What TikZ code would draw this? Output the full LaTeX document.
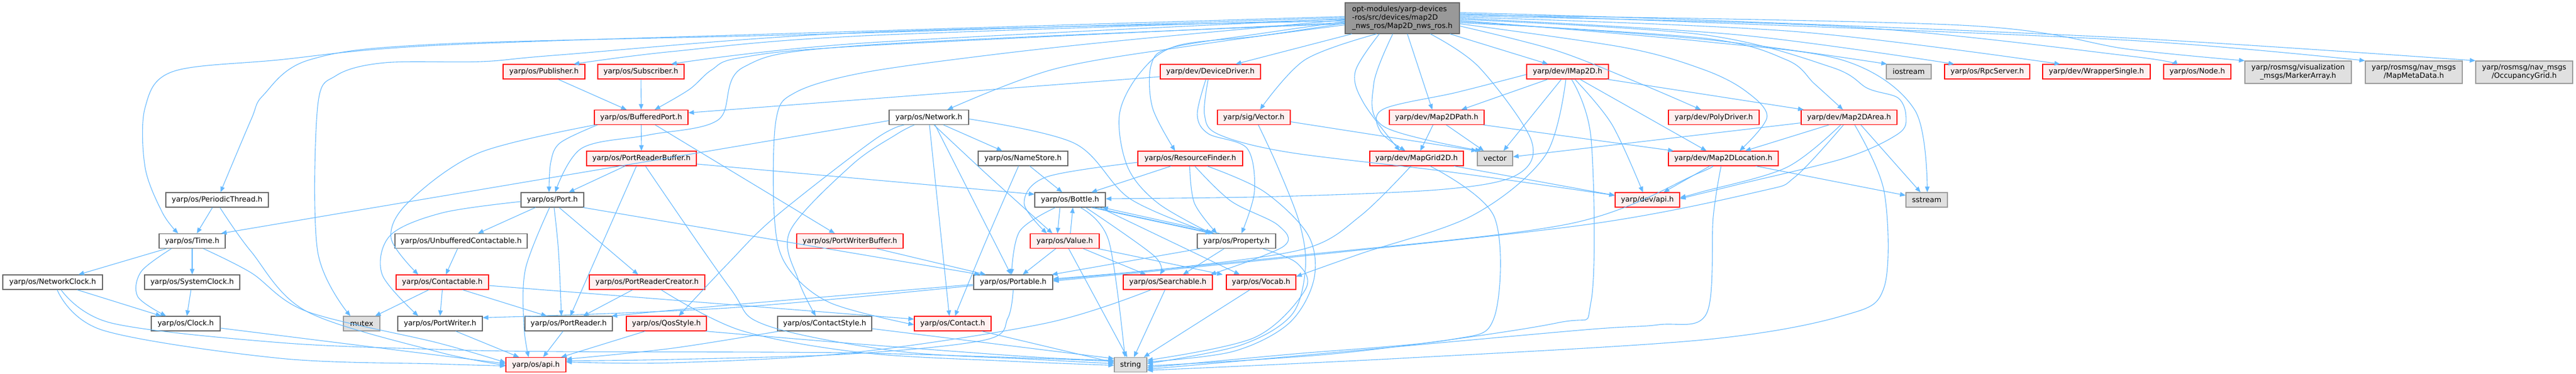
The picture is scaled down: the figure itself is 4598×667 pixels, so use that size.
\documentclass[tikz,border=0pt]{standalone}
\usepackage{fontspec}
\setmainfont{DejaVu Sans}
\usetikzlibrary{arrows.meta}
\definecolor{edgec}{HTML}{63B8FF}
\definecolor{redb}{HTML}{FF0000}
\definecolor{redf}{HTML}{FFF0F0}
\definecolor{plainb}{HTML}{666666}
\definecolor{grayb}{HTML}{999999}
\definecolor{grayf}{HTML}{E0E0E0}
\definecolor{mainf}{HTML}{999999}
\begin{document}
\begin{tikzpicture}[x=1pt,y=-1pt,
  box/.style={draw, line width=1.2pt, inner sep=0pt, font=\fontsize{13}{15}\selectfont, minimum height=26pt},
  redbox/.style={box, draw=redb, fill=redf},
  plainbox/.style={box, draw=plainb, fill=white},
  graybox/.style={box, draw=grayb, fill=grayf},
  mainbox/.style={box, draw=plainb, fill=mainf},
  e/.style={draw=edgec, line width=1.1pt, -{Triangle[length=10pt,width=8pt]}},
  sm/.style={smooth, tension=0.55}
]
\useasboundingbox (0,0) rectangle (4598,667);

% ---------------- nodes ----------------
\node[mainbox, minimum width=204pt, minimum height=55pt, align=left] (main) at (2503,32.5) {opt-modules/yarp-devices\\-ros/src/devices/map2D\\\_nws\_ros/Map2D\_nws\_ros.h};

\node[plainbox, minimum width=183pt] (periodic) at (387.5,357) {yarp/os/PeriodicThread.h};
\node[plainbox, minimum width=118pt] (time) at (343,430.5) {yarp/os/Time.h};
\node[plainbox, minimum width=178pt] (netclock) at (94,504) {yarp/os/NetworkClock.h};
\node[plainbox, minimum width=170pt] (sysclock) at (343,504) {yarp/os/SystemClock.h};
\node[plainbox, minimum width=123pt] (clock) at (331.5,578) {yarp/os/Clock.h};
\node[graybox, minimum width=65pt] (mutex) at (645.5,578) {mutex};

\node[redbox, minimum width=146pt] (publisher) at (971,128) {yarp/os/Publisher.h};
\node[redbox, minimum width=154pt] (subscriber) at (1144,128) {yarp/os/Subscriber.h};
\node[redbox, minimum width=167pt] (bufport) at (1144.5,209.5) {yarp/os/BufferedPort.h};
\node[redbox, minimum width=196pt] (prbuf) at (1145,283) {yarp/os/PortReaderBuffer.h};
\node[plainbox, minimum width=112pt] (port) at (986,357) {yarp/os/Port.h};
\node[plainbox, minimum width=236pt] (unbuf) at (823,430.5) {yarp/os/UnbufferedContactable.h};
\node[redbox, minimum width=165pt] (contactable) at (789.5,504) {yarp/os/Contactable.h};
\node[redbox, minimum width=206pt] (prcreator) at (1155,504) {yarp/os/PortReaderCreator.h};
\node[plainbox, minimum width=151pt] (portwriter) at (785.5,578) {yarp/os/PortWriter.h};
\node[plainbox, minimum width=156pt] (portreader) at (1015,578) {yarp/os/PortReader.h};
\node[redbox, minimum width=143pt] (qos) at (1189.5,578) {yarp/os/QosStyle.h};
\node[plainbox, minimum width=168pt] (cstyle) at (1472,578) {yarp/os/ContactStyle.h};
\node[redbox, minimum width=190pt] (pwbuf) at (1517,430.5) {yarp/os/PortWriterBuffer.h};
\node[redbox, minimum width=107pt] (osapi) at (956.5,651.5) {yarp/os/api.h};

\node[redbox, minimum width=179pt] (devdriver) at (2160.5,128) {yarp/dev/DeviceDriver.h};
\node[plainbox, minimum width=142pt] (network) at (1658,209.5) {yarp/os/Network.h};
\node[redbox, minimum width=130pt] (sigvector) at (2238,209.5) {yarp/sig/Vector.h};
\node[plainbox, minimum width=160pt] (namestore) at (1826,283) {yarp/os/NameStore.h};
\node[redbox, minimum width=187pt] (rfinder) at (2124.5,283) {yarp/os/ResourceFinder.h};
\node[plainbox, minimum width=126pt] (bottle) at (1910,357) {yarp/os/Bottle.h};
\node[redbox, minimum width=123pt] (value) at (1900.5,430.5) {yarp/os/Value.h};
\node[plainbox, minimum width=140pt] (property) at (2207,430.5) {yarp/os/Property.h};
\node[plainbox, minimum width=141pt] (portable) at (1808.5,504) {yarp/os/Portable.h};
\node[redbox, minimum width=159pt] (searchable) at (2084.5,504) {yarp/os/Searchable.h};
\node[redbox, minimum width=124pt] (vocab) at (2251,504) {yarp/os/Vocab.h};
\node[redbox, minimum width=137pt] (contact) at (1700.5,578) {yarp/os/Contact.h};
\node[graybox, minimum width=58pt] (string) at (2018,651.5) {string};

\node[redbox, minimum width=146pt] (imap) at (2798,128) {yarp/dev/IMap2D.h};
\node[redbox, minimum width=169pt] (m2dpath) at (2564.5,209.5) {yarp/dev/Map2DPath.h};
\node[redbox, minimum width=167pt] (mapgrid) at (2528.5,283) {yarp/dev/MapGrid2D.h};
\node[graybox, minimum width=63pt] (vectorstd) at (2668.5,283) {vector};
\node[redbox, minimum width=115pt] (devapi) at (2940.5,357) {yarp/dev/api.h};
\node[redbox, minimum width=162pt] (polydriver) at (3059,209.5) {yarp/dev/PolyDriver.h};
\node[redbox, minimum width=196pt] (m2dloc) at (3076,283) {yarp/dev/Map2DLocation.h};
\node[graybox, minimum width=80pt] (iostream) at (3407,128) {iostream};
\node[redbox, minimum width=152pt] (rpcserver) at (3547,128) {yarp/os/RpcServer.h};
\node[redbox, minimum width=192pt] (wrapper) at (3742,128) {yarp/dev/WrapperSingle.h};
\node[redbox, minimum width=171pt] (m2darea) at (3300.5,209.5) {yarp/dev/Map2DArea.h};
\node[graybox, minimum width=74pt] (sstream) at (3439,357) {sstream};
\node[redbox, minimum width=120pt] (node) at (3922,128) {yarp/os/Node.h};
\node[graybox, minimum width=190pt, minimum height=40pt, align=center] (marker) at (4102,129) {yarp/rosmsg/visualization\\\_msgs/MarkerArray.h};
\node[graybox, minimum width=173pt, minimum height=40pt, align=center] (metadata) at (4308.5,129) {yarp/rosmsg/nav\_msgs\\/MapMetaData.h};
\node[graybox, minimum width=173pt, minimum height=40pt, align=center] (occgrid) at (4505.5,129) {yarp/rosmsg/nav\_msgs\\/OccupancyGrid.h};

% ---------------- edges ----------------
\begin{scope}[on background layer/.style={}]
% left cluster
\draw[e] (periodic) -- (time);
\draw[e] plot[sm] coordinates {([xshift=5pt]periodic.south) (448,449) (547,556) (780,628) ([yshift=-1pt]osapi.west)};
\draw[e] (time) -- (netclock);
\draw[e] (time) -- (sysclock);
\draw[e] plot[sm] coordinates {([xshift=-37pt]time.south) (252,485) (246,530) ([xshift=-35pt]clock.north)};
\draw[e] plot[sm] coordinates {([xshift=20pt]time.south) (448,487) (547,556) (780,612) ([yshift=4pt]osapi.west)};
\draw[e] (netclock) -- (clock);
\draw[e] plot[sm] coordinates {([xshift=8pt]netclock.south) (184,590) (500,640) (780,650) ([yshift=-2pt]osapi.west)};
\draw[e] plot[sm] coordinates {([xshift=15pt]netclock.south) (199,577) (500,612) (780,624) (1000,628) (1500,630) (1850,640) ([yshift=6pt]string.west)};
\draw[e] (sysclock) -- (clock);
\draw[e] ([yshift=-8pt]clock.east) -- ([yshift=2pt]osapi.west);
\draw[e] ([xshift=-24pt]contactable.south) -- ([xshift=24pt]mutex.north);

% main to the left
\draw[e] plot[sm] coordinates {([yshift=3pt]main.west) (1500,57) (780,81) (497,107) (308,128) (259,192) (259,299) (290,380) ([xshift=-25pt]time.north)};
\draw[e] plot[sm] coordinates {([yshift=1pt]main.west) (1500,60) (780,79) (552,107) (470,170) (448,214) ([xshift=6pt]periodic.north)};
\draw[e] plot[sm] coordinates {([yshift=-5pt]main.west) (1540,58) (1000,98) (860,110) (687,112) (600,135) (567,190) (567,449) ([xshift=-20pt]mutex.north)};
\draw[e] plot[sm] coordinates {([yshift=-2pt]main.west) (1540,64) (1200,92) ([xshift=53pt]publisher.north)};
\draw[e] plot[sm] coordinates {([yshift=-1pt]main.west) (1540,77) ([xshift=54pt]subscriber.north)};
\draw[e] plot[sm] coordinates {([yshift=-8pt]main.west) (1540,82) (1322,103) (1270,125) (1230,160) ([xshift=24pt]bufport.north)};
\draw[e] plot[sm] coordinates {([yshift=-10pt]main.west) (1540,81) (1327,120) (1282,214) (1158,241) (1038,265) ([xshift=5pt]port.north)};
\draw[e] plot[sm] coordinates {([yshift=-3pt]main.west) (2017,71) (1769,98) (1540,130) (1420,165) (1385,215) (1382,385) (1403,473) (1480,540) ([yshift=-2pt]contact.west)};
\draw[e] plot[sm] coordinates {([yshift=-12pt]main.west) (2138,80) (1883,123) ([xshift=33pt]network.north)};
\draw[e] plot[sm] coordinates {([yshift=-6pt]main.west) (2250,60) (2092,85) (2055,115) (2057,192) ([xshift=-27pt]rfinder.north)};
\draw[e] plot[sm] coordinates {([yshift=-9pt]main.west) (2250,64) (2100,82) (2035,130) (1998,205) (2013,299) (2067,363) ([xshift=-45pt]property.north)};
\draw[e] ([xshift=-90pt]main.south) -- ([xshift=45pt]devdriver.north);
\draw[e] plot[sm] coordinates {([xshift=-46pt]main.south) (2329,107) ([xshift=11pt]sigvector.north)};
\draw[e] plot[sm] coordinates {([xshift=-41pt]main.south) (2419,128) (2434,184) ([xshift=-30pt]mapgrid.north)};
\draw[e] plot[sm] coordinates {([xshift=-17pt]main.south) (2452,150) (2470,226) ([xshift=-25pt]vectorstd.north)};
\draw[e] ([xshift=9pt]main.south) -- ([xshift=-8pt]m2dpath.north);
\draw[e] plot[sm] coordinates {([xshift=50pt]main.south) (2640,120) (2733,250) (2708,312) (2578,338) (2280,351) ([yshift=2pt]bottle.east)};
\draw[e] ([xshift=85pt]main.south) -- ([xshift=-35pt]imap.north);

% main to the right
\draw[e] plot[sm] coordinates {([yshift=-14pt]main.east) (2777,90) (2927,149) ([xshift=-23pt]polydriver.north)};
\draw[e] plot[sm] coordinates {([yshift=-10pt]main.east) (2900,85) (3040,124) (3115,162) (3154,209) ([xshift=29pt]m2dloc.north)};
\draw[e] plot[sm] coordinates {([yshift=-8pt]main.east) (3040,68) (3189,107) (3239,150) ([xshift=-11pt]m2darea.north)};
\draw[e] plot[sm] coordinates {([yshift=-6pt]main.east) (3040,70) ([xshift=-39pt]iostream.north)};
\draw[e] plot[sm] coordinates {([yshift=-4pt]main.east) (3040,74) (3294,109) (3418,197) ([xshift=1pt]sstream.north)};
\draw[e] plot[sm] coordinates {([yshift=-2pt]main.east) (3040,62) (3269,120) (3334,158) (3388,175) (3402,209) (3388,239) (3294,282) (3100,330) ([yshift=2pt]devapi.east)};
\draw[e] plot[sm] coordinates {([yshift=0pt]main.east) (3100,62) ([xshift=-59pt]rpcserver.north)};
\draw[e] plot[sm] coordinates {([yshift=2pt]main.east) (3200,56) ([xshift=-65pt]wrapper.north)};
\draw[e] plot[sm] coordinates {([yshift=4pt]main.east) (3300,48) (3800,100) ([xshift=-46pt]node.north)};
\draw[e] plot[sm] coordinates {([yshift=6pt]main.east) (3500,45) (3800,88) (marker.north west)};
\draw[e] plot[sm] coordinates {([yshift=8pt]main.east) (3040,40) (3800,72) (metadata.north west)};
\draw[e] plot[sm] coordinates {([yshift=10pt]main.east) (3040,36) (3800,68) (occgrid.north west)};

% publisher / subscriber / bufport
\draw[e] ([xshift=25pt]publisher.south) -- ([xshift=-26pt]bufport.north);
\draw[e] (subscriber) -- (bufport);
\draw[e] ([yshift=-9pt]devdriver.west) -- ([yshift=8pt]bufport.east);
\draw[e] plot[sm] coordinates {([xshift=-78pt]bufport.south) (1000,255) (983,290) ([xshift=-6pt]port.north)};
\draw[e] (bufport) -- (prbuf);
\draw[e] ([xshift=25pt]bufport.south) -- ([xshift=-27pt]pwbuf.north);
\draw[e] plot[sm] coordinates {([xshift=2pt]bufport.south west) (855,273) (730,360) (698,425) ([xshift=-43pt]contactable.north)};

% prbuf
\draw[e] (prbuf) -- (port);
\draw[e] ([xshift=-9pt]prbuf.south) -- ([xshift=3pt]portreader.north);
\draw[e] plot[sm] coordinates {([xshift=7pt]prbuf.south) (1302,513) (1365,580) (1600,627) (1850,642) ([yshift=2pt]string.west)};
\draw[e] ([yshift=-10pt]prbuf.east) -- ([yshift=10pt]bottle.west);

% port
\draw[e] (port) -- (unbuf);
\draw[e] plot[sm] coordinates {([yshift=-3pt]port.west) (790,380) (697,420) (682,490) ([xshift=-39pt]portwriter.north)};
\draw[e] plot[sm] coordinates {([xshift=-5pt]port.south) (938,480) (935,580) ([xshift=-13pt]osapi.north)};
\draw[e] plot[sm] coordinates {([xshift=3pt]port.south) (997,450) ([xshift=-13pt]portreader.north)};
\draw[e] ([xshift=12pt]port.south) -- ([xshift=-16pt]prcreator.north);
\draw[e] ([xshift=-2pt]port.south east) -- ([xshift=-59pt]portable.north);

% contactable etc
\draw[e] (unbuf) -- (contactable);
\draw[e] (contactable.south) -- (portwriter.north);
\draw[e] ([xshift=36pt]contactable.south) -- ([xshift=-39pt]portreader.north);
\draw[e] ([yshift=-6pt]contactable.east) -- ([yshift=8pt]contact.west);
\draw[e] (prcreator) -- (portreader);
\draw[e] plot[sm] coordinates {([xshift=25pt]prcreator.south) (1322,590) (1540,630) (1800,645) ([yshift=-1pt]string.west)};
\draw[e] ([xshift=28pt]portwriter.south) -- ([xshift=-30pt]osapi.north);
\draw[e] ([xshift=-10pt]portreader.south) -- ([xshift=13pt]osapi.north);
\draw[e] ([xshift=-38pt]qos.south) -- ([xshift=45pt]osapi.north);
\draw[e] plot[sm] coordinates {([xshift=-2pt]qos.south east) (1540,615) (1850,638) ([yshift=8pt]string.west)};
\draw[e] plot[sm] coordinates {([xshift=3pt]cstyle.south west) (1200,622) ([yshift=10pt]osapi.east)};
\draw[e] ([yshift=-9pt]cstyle.east) -- ([yshift=11pt]string.west);
\draw[e] ([xshift=48pt]pwbuf.south) -- ([xshift=-49pt]portable.north);

% network
\draw[e] ([yshift=-6pt]network.west) -- ([xshift=-8pt]time.north east);
\draw[e] plot[sm] coordinates {([xshift=-44pt]network.south) (1560,250) (1384,387) (1300,470) ([xshift=22pt]qos.north)};
\draw[e] plot[sm] coordinates {([xshift=-26pt]network.south) (1600,240) (1520,295) (1410,413) (1425,500) ([xshift=-16pt]cstyle.north)};
\draw[e] ([xshift=1pt]network.south) -- ([xshift=-6pt]contact.north);
\draw[e] ([xshift=11pt]network.south) -- ([xshift=-4pt]portable.north);
\draw[e] plot[sm] coordinates {([xshift=9pt]network.south) (1760,310) ([xshift=-22pt]value.north)};
\draw[e] ([xshift=26pt]network.south) -- ([xshift=-37pt]namestore.north);
\draw[e] plot[sm] coordinates {([yshift=-3pt]network.east) (1918,256) (2017,355) ([xshift=-45pt]property.north)};

% namestore, resource finder, device driver, sig vector
\draw[e] ([xshift=12pt]namestore.south) -- ([xshift=-14pt]bottle.north);
\draw[e] plot[sm] coordinates {([xshift=-8pt]namestore.south) (1760,430) ([xshift=4pt]contact.north)};
\draw[e] plot[sm] coordinates {([yshift=-7pt]rfinder.west) (1868,316) (1828,363) ([xshift=-32pt]value.north)};
\draw[e] ([xshift=-34pt]rfinder.south) -- ([xshift=38pt]bottle.north);
\draw[e] plot[sm] coordinates {([xshift=-1pt]rfinder.south) (2132,363) ([xshift=-35pt]property.north)};
\draw[e] plot[sm] coordinates {([xshift=8pt]rfinder.south) (2197,359) (2281,402) (2291,440) ([xshift=76pt]searchable.north)};
\draw[e] plot[sm] coordinates {([xshift=30pt]rfinder.south) (2256,342) (2335,420) (2345,500) (2300,578) (2200,628) ([yshift=5pt]string.east)};
\draw[e] plot[sm] coordinates {([xshift=-8pt]devdriver.south) (2137,205) (2157,239) (2226,265) (2239,342) ([xshift=9pt]property.north)};
\draw[e] plot[sm] coordinates {([xshift=-4pt]devdriver.south) (2150,205) (2175,240) (2300,272) (2587,307) ([yshift=8pt]devapi.west)};
\draw[e] ([yshift=-8pt]sigvector.east) -- (vectorstd.north west);
\draw[e] plot[sm] coordinates {([xshift=8pt]sigvector.south) (2281,299) (2320,400) (2330,480) (2305,563) (2213,617) ([yshift=2pt]string.east)};

% bottle, value, property
\draw[e] plot[sm] coordinates {([xshift=-26pt]bottle.south) (1820,413) ([xshift=-3pt]portable.north)};
\draw[e] ([xshift=-18pt]bottle.south) -- ([xshift=-13pt]value.north);
\draw[e] ([xshift=10pt]value.north) -- ([xshift=5pt]bottle.south);
\draw[e] plot[sm] coordinates {([xshift=18pt]bottle.south) (1979,430) ([xshift=-10pt]string.north)};
\draw[e] plot[sm] coordinates {([xshift=28pt]bottle.south) (2060,457) ([xshift=-14pt]searchable.north)};
\draw[e] ([xshift=38pt]bottle.south) -- ([xshift=-45pt]property.north);
\draw[e] ([xshift=42pt]bottle.south) -- ([xshift=-40pt]property.north);
\draw[e] ([xshift=-30pt]property.north) -- ([xshift=-6pt]bottle.south east);
\draw[e] ([xshift=53pt]bottle.south) -- ([xshift=-38pt]vocab.north);
\draw[e] ([xshift=-16pt]value.south) -- ([xshift=17pt]portable.north);
\draw[e] ([xshift=7pt]value.south) -- ([xshift=-6pt]string.north);
\draw[e] ([xshift=33pt]value.south) -- ([xshift=-39pt]searchable.north);
\draw[e] ([xshift=-3pt]value.south east) -- ([xshift=-6pt]vocab.north west);
\draw[e] ([xshift=-65pt]property.south) -- ([xshift=-2pt]portable.north east);
\draw[e] ([xshift=-22pt]property.south) -- ([xshift=27pt]searchable.north);
\draw[e] plot[sm] coordinates {([xshift=47pt]property.south) (2315,470) (2330,517) (2239,603) ([yshift=8pt]string.east)};

% portable, searchable, vocab, contact
\draw[e] plot[sm] coordinates {([yshift=-4pt]portable.west) (1300,545) ([xshift=-2pt]portreader.north east)};
\draw[e] plot[sm] coordinates {([yshift=-6pt]portable.west) (1300,550) ([yshift=-3pt]portwriter.north east)};
\draw[e] plot[sm] coordinates {(portable.south) (1799,568) (1759,607) (1520,632) (1200,642) ([yshift=7pt]osapi.east)};
\draw[e] plot[sm] coordinates {([xshift=-30pt]searchable.south) (1868,577) (1520,630) (1200,648) ([yshift=5pt]osapi.east)};
\draw[e] ([xshift=-5pt]searchable.south) -- ([xshift=6pt]string.north);
\draw[e] ([xshift=-20pt]vocab.south) -- ([xshift=-6pt]string.north east);
\draw[e] ([xshift=52pt]contact.south) -- ([yshift=4pt]string.west);

% imap
\draw[e] plot[sm] coordinates {([yshift=-5pt]imap.west) (2600,165) (2469,195) (2464,235) ([xshift=-20pt]mapgrid.north)};
\draw[e] ([xshift=-35pt]imap.south) -- ([xshift=44pt]m2dpath.north);
\draw[e] ([xshift=-11pt]imap.south) -- ([xshift=15pt]vectorstd.north);
\draw[e] plot[sm] coordinates {([xshift=-3pt]imap.south) (2758,278) (2628,385) (2429,453) ([yshift=10pt]vocab.east)};
\draw[e] plot[sm] coordinates {([xshift=7pt]imap.south) (2840,248) (2840,538) (2778,577) (2400,630) ([yshift=-2pt]string.east)};
\draw[e] plot[sm] coordinates {([xshift=13pt]imap.south) (2877,222) ([xshift=-8pt]devapi.north)};
\draw[e] ([xshift=22pt]imap.south) -- ([xshift=-30pt]m2dloc.north);
\draw[e] ([xshift=-3pt]imap.south east) -- ([xshift=5pt]m2darea.north west);

% map2dpath, mapgrid
\draw[e] (m2dpath) -- (mapgrid);
\draw[e] ([xshift=17pt]m2dpath.south) -- ([xshift=-20pt]vectorstd.north);
\draw[e] ([xshift=-2pt]m2dpath.south east) -- ([xshift=10pt]m2dloc.north west);
\draw[e] ([xshift=67pt]mapgrid.south) -- ([yshift=8pt]devapi.west);
\draw[e] plot[sm] coordinates {([xshift=24pt]mapgrid.south) (2667,387) (2667,567) (2587,607) (2300,633) ([yshift=-5pt]string.east)};
\draw[e] plot[sm] coordinates {([xshift=-10pt]mapgrid.south) (2429,385) (2330,444) (2100,478) ([yshift=6pt]portable.east)};

% map2dlocation
\draw[e] ([xshift=-24pt]m2dloc.south) -- ([xshift=29pt]devapi.north);
\draw[e] ([xshift=58pt]m2dloc.south) -- ([yshift=8pt]sstream.west);
\draw[e] plot[sm] coordinates {([xshift=-4pt]m2dloc.south) (3058,387) (3046,560) (2960,580) (2817,590) (2300,637) ([yshift=-8pt]string.east)};
\draw[e] plot[sm] coordinates {([xshift=-21pt]m2dloc.south) (3030,310) (2800,400) (2300,458) ([yshift=4pt]portable.east)};

% map2darea
\draw[e] ([xshift=-36pt]m2darea.south) -- ([xshift=39pt]m2dloc.north);
\draw[e] ([yshift=-10pt]m2darea.west) -- ([yshift=3pt]vectorstd.east);
\draw[e] plot[sm] coordinates {([xshift=-15pt]m2darea.south) (3189,299) (3040,342) ([yshift=4pt]devapi.east)};
\draw[e] plot[sm] coordinates {([xshift=-10pt]m2darea.south) (3204,316) (3140,342) (2840,400) (2300,460) ([yshift=2pt]portable.east)};
\draw[e] ([xshift=21pt]m2darea.south) -- ([xshift=-11pt]sstream.north);
\draw[e] plot[sm] coordinates {([xshift=10pt]m2darea.south) (3363,342) (3363,513) (3289,564) (3040,607) (2500,640) ([yshift=-10pt]string.east)};
\end{scope}
\end{tikzpicture}
\end{document}
